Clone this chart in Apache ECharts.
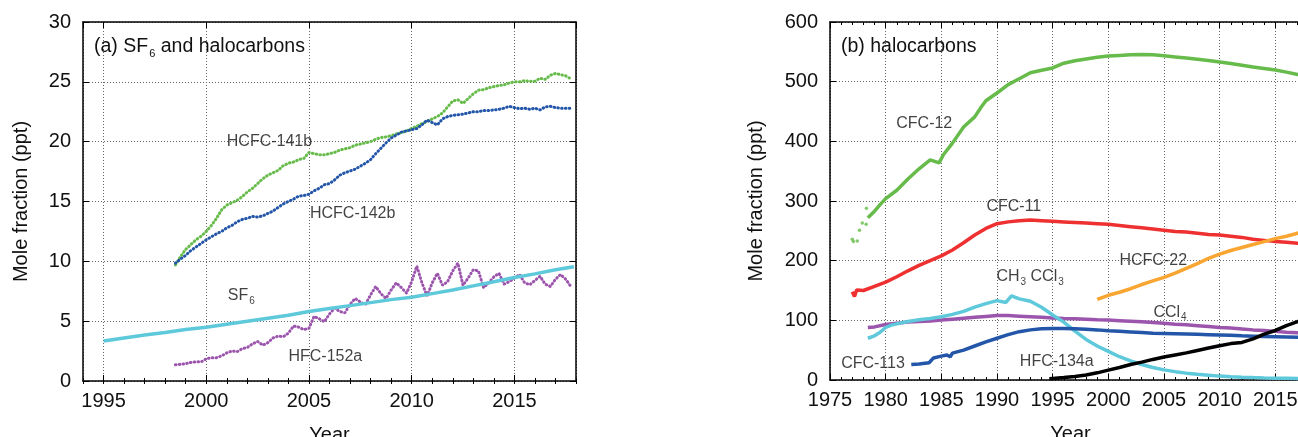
<!DOCTYPE html>
<html>
<head>
<meta charset="utf-8">
<script src="https://cdn.jsdelivr.net/npm/echarts@6/dist/echarts.min.js"></script>
<style>
html, body { margin: 0; padding: 0; background: #fff; }
#chart { width: 1298px; height: 437px; }
</style>
</head>
<body>
<div id="chart"></div>
<script>
// ---- panel (a): SF6 and halocarbons, quarterly readings 1998.5 - 2017.75
var quarterYears = [];
for (var t = 1998.5; t < 2017.8; t += 0.25) quarterYears.push(t);

var hcfc141b = [9.7, 10.4,
  11.0, 11.4, 11.8, 12.1,   12.5, 13.0, 13.6, 14.3,   14.7, 14.9, 15.1, 15.4,
  15.8, 16.1, 16.5, 16.9,   17.2, 17.4, 17.6, 18.0,   18.2, 18.3, 18.5, 18.6,
  19.1, 19.0, 18.9, 18.9,   19.0, 19.1, 19.3, 19.4,   19.5, 19.7, 19.8, 19.9,
  20.0, 20.2, 20.35, 20.4,  20.5, 20.65, 20.75, 20.9, 21.1, 21.3, 21.5, 21.7,
  21.9, 22.1, 22.4, 22.9,   23.4, 23.5, 23.2, 23.6,   24.0, 24.3, 24.35, 24.5,
  24.6, 24.7, 24.75, 24.9,  25.0, 25.0, 25.1, 25.05,  25.05, 25.3, 25.2, 25.55,
  25.7, 25.6, 25.5, 25.25];

var hcfc142b = [9.85, 10.2,
  10.5, 10.9, 11.2, 11.5,   11.8, 12.05, 12.3, 12.5,  12.8, 13.0, 13.3, 13.5,
  13.6, 13.75, 13.7, 13.8,  14.0, 14.2, 14.5, 14.8,   15.0, 15.2, 15.45, 15.5,
  15.6, 15.9, 16.1, 16.4,   16.5, 16.8, 17.2, 17.4,   17.55, 17.7, 17.95, 18.2,
  18.5, 19.0, 19.45, 19.9,  20.3, 20.55, 20.8, 20.9,  21.0, 21.1, 21.4, 21.8,
  21.6, 21.4, 21.9, 22.1,   22.2, 22.25, 22.3, 22.4,  22.5, 22.5, 22.6, 22.6,
  22.65, 22.7, 22.8, 22.95, 22.85, 22.75, 22.8, 22.7, 22.8, 22.65, 22.9, 22.95,
  22.85, 22.8, 22.8, 22.8];

var hfc152a = [1.35, 1.4,
  1.45, 1.55, 1.6, 1.6,     1.85, 1.95, 1.95, 2.1,    2.35, 2.5, 2.45, 2.7,
  2.8, 3.1, 3.3, 3.0,       3.2, 3.6, 3.75, 3.7,      4.0, 4.6, 4.5, 4.3,
  4.4, 5.4, 5.2, 4.95,      5.6, 6.1, 5.8, 5.7,       6.4, 6.9, 6.6, 6.4,
  7.2, 7.9, 7.3, 6.9,       7.6, 8.2, 7.8, 7.35,      8.3, 9.6, 8.2, 7.1,
  8.2, 9.0, 8.0, 8.3,       9.2, 9.85, 8.0, 8.6,      9.3, 9.2, 7.8, 8.2,
  8.7, 9.0, 8.1, 8.3,       8.6, 8.9, 8.2, 8.05,      8.4, 8.75, 8.1, 7.9,
  8.5, 8.9, 8.5, 7.9];

var sf6Years = [1995, 1996, 1997, 1998, 1999, 2000, 2001, 2002, 2003, 2004, 2005, 2006,
  2007, 2008, 2009, 2010, 2011, 2012, 2013, 2014, 2015, 2016, 2017, 2017.9];
var sf6 = [3.35, 3.6, 3.85, 4.05, 4.3, 4.5, 4.75, 5.0, 5.25, 5.5, 5.8, 6.05,
  6.3, 6.55, 6.8, 7.0, 7.3, 7.6, 7.95, 8.3, 8.65, 8.95, 9.3, 9.55];

// ---- panel (b): halocarbons
var cfc12EarlyYears = [1977.0, 1977.1, 1977.45, 1977.65, 1977.9, 1978.25, 1978.27];
var cfc12Early = [236, 232, 233, 251, 263, 261, 288];

var cfc12Years = [1978.4, 1979, 1979.5, 1980, 1981, 1982, 1983, 1984, 1984.8, 1985.2, 1986, 1987,
  1988, 1988.6, 1989, 1990, 1991, 1992, 1993, 1994, 1995, 1996, 1997, 1998, 1999, 2000,
  2001, 2002, 2003, 2004, 2005, 2006, 2007, 2008, 2009, 2010, 2011, 2012, 2013, 2014,
  2015, 2016, 2017, 2018];
var cfc12 = [272, 283, 294, 304, 318, 337, 354, 369, 364, 378, 397, 424,
  441, 458, 468, 481, 495, 505, 515, 519, 523, 531, 535, 538, 541, 543,
  544, 545, 545.5, 545, 543.5, 541.5, 539.5, 537.5, 535.5, 533, 530.5, 527.5, 524.5, 522,
  519.5, 516, 512, 509];

var cfc11Years = [1977.0, 1977.2, 1977.4, 1978, 1979, 1980, 1981, 1982, 1983, 1984, 1985, 1986,
  1987, 1988, 1989, 1990, 1991, 1992, 1993, 1994, 1995, 1996, 1997, 1998, 1999, 2000,
  2001, 2002, 2003, 2004, 2005, 2006, 2007, 2008, 2009, 2010, 2011, 2012, 2013, 2014,
  2015, 2016, 2017, 2018];
var cfc11 = [148, 140, 151, 150, 157, 164, 173, 183, 192, 200, 208, 218,
  230, 243, 254, 262, 265, 267, 268, 267, 266, 265, 264, 263, 262, 261,
  259, 257, 255, 253, 251, 249, 248, 246, 244, 243, 241, 239, 236, 234,
  232, 231, 229, 228];

var hcfc22Years = [1999, 2000, 2001, 2002, 2003, 2004, 2005, 2006, 2007, 2008, 2009, 2010,
  2011, 2012, 2013, 2014, 2015, 2016, 2017, 2018];
var hcfc22 = [135, 142, 147, 153, 160, 166, 172, 179, 187, 195, 204, 211,
  217, 222, 227, 232, 237, 241, 246, 250];

var ch3ccl3Years = [1978.4, 1979, 1979.5, 1980, 1980.5, 1981, 1982, 1983, 1984, 1985, 1986, 1987,
  1988, 1989, 1990, 1990.8, 1991.3, 1992, 1993, 1994, 1995, 1996, 1997, 1998, 1999, 2000,
  2001, 2002, 2003, 2004, 2005, 2006, 2007, 2008, 2009, 2010, 2011, 2012, 2013, 2014,
  2015, 2016, 2017, 2018];
var ch3ccl3 = [70, 74, 80, 88, 92, 94, 98, 101, 103, 106, 110, 115,
  122, 128, 133, 130, 141, 136, 132, 122, 109, 97, 82, 68, 57, 48,
  39, 32, 26, 21, 17, 14, 11.5, 9.5, 8, 6.5, 5.5, 4.6, 4, 3.5,
  3.1, 2.8, 2.5, 2.3];

var ccl4Years = [1978.4, 1979, 1980, 1981, 1982, 1983, 1984, 1985, 1986, 1987, 1988, 1989,
  1990, 1991, 1992, 1993, 1994, 1995, 1996, 1997, 1998, 1999, 2000, 2001, 2002, 2003,
  2004, 2005, 2006, 2007, 2008, 2009, 2010, 2011, 2012, 2013, 2014, 2015, 2016, 2017, 2018];
var ccl4 = [88, 89, 93, 95, 97, 98, 99, 100.5, 102, 103.5, 105, 106.5,
  108, 108, 107, 106, 105, 104, 103, 102.5, 102, 101, 100.5, 99.5, 98.5, 97.5,
  96.5, 95, 93.5, 92.5, 91, 89.5, 88, 87, 85.5, 84, 83, 81.5, 80, 79, 78];

var cfc113Years = [1982.3, 1983, 1983.9, 1984.3, 1985, 1985.5, 1985.8, 1986, 1987, 1988, 1989, 1990,
  1991, 1992, 1993, 1994, 1995, 1996, 1997, 1998, 1999, 2000, 2001, 2002, 2003, 2004,
  2005, 2006, 2007, 2008, 2009, 2010, 2011, 2012, 2013, 2014, 2015, 2016, 2017, 2018];
var cfc113 = [26, 27, 29, 37, 40, 42, 39, 45, 50, 57, 64, 70,
  76, 81, 84, 86, 86.5, 86.5, 86, 85, 84, 82.5, 81.5, 80.5, 79.5, 78.5,
  78, 77.5, 77, 76.5, 76, 75.5, 75, 74, 73.5, 73, 72.5, 72, 71.5, 71];

var hfc134aYears = [1994.7, 1995, 1996, 1997, 1998, 1999, 2000, 2001, 2002, 2003, 2004, 2005,
  2006, 2007, 2008, 2009, 2010, 2011, 2012, 2013, 2014, 2015, 2016, 2017, 2018];
var hfc134a = [2, 2.5, 4, 6, 8.5, 12, 16.5, 21, 26, 30, 34.5, 38.5,
  42, 45.5, 49.5, 53.5, 57.5, 61, 63, 69, 77, 83, 91, 98, 102];

// labels (text in rich format, placed at data coordinates)
var labelsA = [
  { text: '{n|HCFC-141b}', at: [2001.0, 20.0] },
  { text: '{n|HCFC-142b}', at: [2005.05, 14.0] },
  { text: '{n|SF}{s|6}', at: [2001.05, 7.1] },
  { text: '{n|HFC-152a}', at: [2004.0, 2.05] }
];
var labelsB = [
  { text: '{n|CFC-12}', at: [1980.95, 429] },
  { text: '{n|CFC-11}', at: [1989.05, 290] },
  { text: '{n|CH}{s|3}{n| CCl}{s|3}', at: [1989.95, 173] },
  { text: '{n|HCFC-22}', at: [2001.0, 200] },
  { text: '{n|CCl}{s|4}', at: [2004.05, 113] },
  { text: '{n|HFC-134a}', at: [1992.05, 31] },
  { text: '{n|CFC-113}', at: [1976.0, 27] }
];

var FONT = 'Liberation Sans';
var INK = '#111';
var rich = {
  n: { fontFamily: FONT, fontSize: 16, color: INK, lineHeight: 20 },
  s: { fontFamily: FONT, fontSize: 10, color: INK, lineHeight: 2, verticalAlign: 'bottom', padding: [0, 0, 0, 1] }
};
var titleRich = {
  n: { fontFamily: FONT, fontSize: 19.5, fontWeight: 'normal', color: INK, lineHeight: 24 },
  s: { fontFamily: FONT, fontSize: 11, fontWeight: 'normal', color: INK, lineHeight: 2, verticalAlign: 'bottom', padding: [0, 0, 0, 1] }
};

function pairs(xs, ys) {
  return xs.map(function (x, i) { return [x, ys[i]]; });
}

var gridLine = { show: true, lineStyle: { color: '#666', width: 1, type: [1, 2] } };
var boxLine = { show: true, onZero: false, lineStyle: { color: '#000', width: 1.5 } };
var tickFont = { fontFamily: FONT, fontSize: 20, color: INK };

function xMain(grid, pos, opts) {
  return Object.assign({
    gridIndex: grid, type: 'value', position: pos,
    axisLine: boxLine,
    axisTick: { show: true, inside: true, length: 6, lineStyle: { color: '#000' } },
    axisLabel: { show: false },
    splitLine: pos === 'bottom' ? gridLine : { show: false }
  }, opts);
}

function dotted(name, color, xs, ys) {
  return {
    name: name, type: 'line', xAxisIndex: 0, yAxisIndex: 0,
    data: pairs(xs, ys), showSymbol: false, silent: true,
    lineStyle: { color: color, width: 3, type: [0.6, 3.2], cap: 'round' }
  };
}
function solid(name, color, xs, ys, xi, yi) {
  return {
    name: name, type: 'line', xAxisIndex: xi, yAxisIndex: yi,
    data: pairs(xs, ys), showSymbol: false, silent: true,
    lineStyle: { color: color, width: 3.5 }
  };
}
function labelSeries(items, xi, yi) {
  return {
    type: 'scatter', xAxisIndex: xi, yAxisIndex: yi, symbolSize: 0, silent: true,
    data: items.map(function (d) { return { value: d.at, label: { formatter: d.text } }; }),
    label: { show: true, position: 'right', distance: 0, rich: rich }
  };
}

var yearFmt = function (v) { return v % 5 === 0 ? String(v) : ''; };

var chart = echarts.init(document.getElementById('chart'));
chart.setOption({
  animation: false,
  backgroundColor: '#fff',
  title: [
    { left: 89, top: 30, text: '{n|(a) SF}{s|6}{n| and halocarbons}', textStyle: { fontWeight: 'normal', rich: titleRich } },
    { left: 836, top: 30, text: '{n|(b) halocarbons}', textStyle: { fontWeight: 'normal', rich: titleRich } }
  ],
  grid: [
    { left: 83, top: 22, width: 493, bottom: 56, outerBoundsMode: 'none', containLabel: false },
    { left: 830, top: 22, right: -33, bottom: 57, outerBoundsMode: 'none', containLabel: false }
  ],
  xAxis: [
    // 0: panel a, bottom, major ticks
    xMain(0, 'bottom', { min: 1994, max: 2018, splitNumber: 5,
      axisLabel: Object.assign({ show: true, margin: 10, formatter: yearFmt, showMinLabel: false, showMaxLabel: false }, tickFont),
      name: 'Year', nameLocation: 'middle', nameGap: 44,
      nameTextStyle: { fontFamily: FONT, fontSize: 20, color: INK } }),
    // 1: panel a, bottom, yearly minor ticks
    { gridIndex: 0, type: 'value', position: 'bottom', min: 1994, max: 2018, interval: 1,
      axisLine: { show: false }, axisLabel: { show: false }, splitLine: { show: false },
      axisTick: { show: true, inside: true, length: 3, lineStyle: { color: '#000' } } },
    // 2: panel a, top, major ticks
    xMain(0, 'top', { min: 1994, max: 2018, splitNumber: 5 }),
    // 3: panel a, top, yearly minor ticks
    { gridIndex: 0, type: 'value', position: 'top', min: 1994, max: 2018, interval: 1,
      axisLine: { show: false }, axisLabel: { show: false }, splitLine: { show: false },
      axisTick: { show: true, inside: true, length: 3, lineStyle: { color: '#000' } } },
    // 4: panel b, bottom
    xMain(1, 'bottom', { min: 1975, max: 2020, interval: 5,
      minorTick: { show: true, splitNumber: 5, length: 3, lineStyle: { color: '#000' } },
      axisLabel: Object.assign({ show: true, margin: 10, formatter: yearFmt }, tickFont),
      name: 'Year', nameLocation: 'middle', nameGap: 44,
      nameTextStyle: { fontFamily: FONT, fontSize: 20, color: INK, padding: [0, 20, 0, 0] } }),
    // 5: panel b, top
    xMain(1, 'top', { min: 1975, max: 2020, interval: 5,
      minorTick: { show: true, splitNumber: 5, length: 3, lineStyle: { color: '#000' } } })
  ],
  yAxis: [
    { gridIndex: 0, type: 'value', position: 'left', min: 0, max: 30, interval: 5,
      axisLine: boxLine,
      axisTick: { show: true, inside: true, length: 6, lineStyle: { color: '#000' } },
      axisLabel: Object.assign({ margin: 12 }, tickFont),
      splitLine: gridLine,
      name: 'Mole fraction (ppt)', nameLocation: 'middle', nameGap: 52, nameRotate: 90,
      nameTextStyle: { fontFamily: FONT, fontSize: 20, color: INK } },
    { gridIndex: 0, type: 'value', position: 'right', min: 0, max: 30, interval: 5,
      axisLine: boxLine, axisLabel: { show: false }, splitLine: { show: false },
      axisTick: { show: true, inside: true, length: 6, lineStyle: { color: '#000' } } },
    { gridIndex: 1, type: 'value', position: 'left', min: 0, max: 600, interval: 100,
      axisLine: boxLine,
      axisTick: { show: true, inside: true, length: 6, lineStyle: { color: '#000' } },
      axisLabel: Object.assign({ margin: 12 }, tickFont),
      splitLine: gridLine,
      name: 'Mole fraction (ppt)', nameLocation: 'middle', nameGap: 64, nameRotate: 90,
      nameTextStyle: { fontFamily: FONT, fontSize: 20, color: INK } }
  ],
  series: [
    dotted('HCFC-141b', '#66bb4a', quarterYears, hcfc141b),
    dotted('HCFC-142b', '#2356a8', quarterYears, hcfc142b),
    dotted('HFC-152a', '#9c55ad', quarterYears, hfc152a),
    solid('SF6', '#5ec9da', sf6Years, sf6, 0, 0),
    {
      name: 'CFC-12 early', type: 'scatter', xAxisIndex: 4, yAxisIndex: 2, silent: true,
      data: pairs(cfc12EarlyYears, cfc12Early), symbolSize: 3.5, itemStyle: { color: '#66bb4a' }
    },
    solid('CFC-12', '#66bb4a', cfc12Years, cfc12, 4, 2),
    solid('CFC-11', '#ee3030', cfc11Years, cfc11, 4, 2),
    solid('HCFC-22', '#f9a531', hcfc22Years, hcfc22, 4, 2),
    solid('CCl4', '#9c55ad', ccl4Years, ccl4, 4, 2),
    solid('CH3CCl3', '#5ec9da', ch3ccl3Years, ch3ccl3, 4, 2),
    solid('CFC-113', '#2356a8', cfc113Years, cfc113, 4, 2),
    solid('HFC-134a', '#000000', hfc134aYears, hfc134a, 4, 2),
    labelSeries(labelsA, 0, 0),
    labelSeries(labelsB, 4, 2)
  ]
});
</script>
</body>
</html>
